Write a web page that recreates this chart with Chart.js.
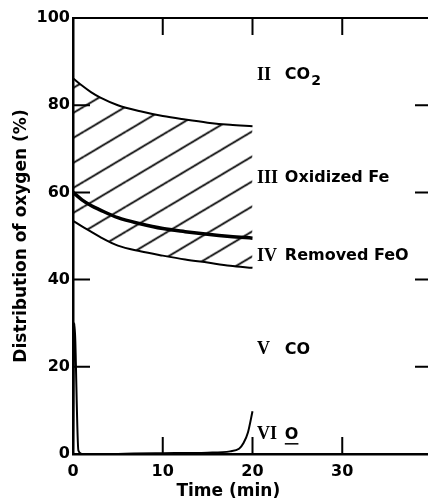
<!DOCTYPE html>
<html>
<head>
<meta charset="utf-8">
<script src="https://cdn.jsdelivr.net/npm/chart.js@4/dist/chart.umd.min.js"></script>
<style>
html, body { margin: 0; padding: 0; background: #fff; overflow: hidden; width: 428px; height: 503px; }
#wrap { width: 440px; height: 503px; position: relative; }
</style>
</head>
<body>
<div id="wrap"><canvas id="chart"></canvas></div>
<script>
// boundary curves between the oxygen fractions (time in min, value in %)
var time = [0, 1, 2, 3, 5, 7.5, 10, 12.5, 15, 17.5, 20];
var co2Edge = [86.2, 84.5, 83, 81.8, 80, 78.6, 77.5, 76.7, 76, 75.5, 75.2];
var feEdge = [60, 58.3, 57, 56, 54.2, 52.8, 51.7, 51, 50.4, 49.9, 49.5];
var feoEdge = [53.5, 52.2, 51, 49.8, 47.8, 46.5, 45.5, 44.6, 43.9, 43.2, 42.7];

// free oxygen curve
var oTime = [0, 0.15, 0.6, 1, 2, 4, 5, 10, 15, 17.5, 18.5, 19, 19.5, 20];
var oVal = [0, 30, 0.8, 0, -0.4, -0.4, 0, 0.2, 0.3, 0.6, 1.2, 2.5, 5, 9.8];

var xTicks = [0, 10, 20, 30];
var yTicks = [0, 20, 40, 60, 80, 100];

// region labels
var regionNum = ['II', 'III', 'IV', 'V', 'VI'];
var regionText = ['CO', 'Oxidized Fe', 'Removed FeO', 'CO', 'O'];
var regionAt = [86.9, 63.3, 45.4, 23.9, 4.4];

var FONT = '"DejaVu Sans", sans-serif';
var TICK = 17;

function pts(xs, ys) {
	return xs.map(function(x, i){ return {x: x, y: ys[i]}; });
}

function hatch() {
	var w = 42, h = 25;
	var c = document.createElement('canvas');
	c.width = w; c.height = h;
	var g = c.getContext('2d');
	g.strokeStyle = '#000';
	g.lineWidth = 1.8;
	for (var i = -1; i <= 1; i++) {
		for (var j = -1; j <= 1; j++) {
			g.beginPath();
			g.moveTo(i * w, h + j * h);
			g.lineTo(w + i * w, j * h);
			g.stroke();
		}
	}
	var p = g.createPattern(c, 'repeat');
	if (p.setTransform) { p.setTransform(new DOMMatrix([1, 0, 0, 1, 0, 6.5])); }
	return p;
}

var framePlugin = {
	id: 'frame',
	afterDraw: function(chart) {
		var ctx = chart.ctx, a = chart.chartArea;
		var xs = chart.scales.x, ys = chart.scales.y;
		ctx.save();
		ctx.strokeStyle = '#000';
		ctx.lineWidth = 2;
		ctx.beginPath();
		ctx.moveTo(a.left, a.top);
		ctx.lineTo(a.right, a.top);
		ctx.lineTo(a.right, a.bottom);
		yTicks.forEach(function(v){
			if (v <= 0 || v >= 100) { return; }
			var y = ys.getPixelForValue(v);
			ctx.moveTo(a.left, y); ctx.lineTo(a.left + TICK, y);
			ctx.moveTo(a.right, y); ctx.lineTo(a.right - TICK, y);
		});
		xTicks.forEach(function(v){
			if (v <= 0) { return; }
			var x = xs.getPixelForValue(v);
			ctx.moveTo(x, a.bottom); ctx.lineTo(x, a.bottom - TICK);
			ctx.moveTo(x, a.top); ctx.lineTo(x, a.top + TICK);
		});
		ctx.stroke();

		// axis titles
		ctx.fillStyle = '#000';
		ctx.textAlign = 'center';
		ctx.textBaseline = 'middle';
		ctx.font = 'bold 17px ' + FONT;
		ctx.fillText('Time (min)', xs.getPixelForValue(17.3), 492);
		ctx.save();
		ctx.translate(22, (a.top + a.bottom) / 2);
		ctx.rotate(-Math.PI / 2);
		ctx.fillText('Distribution of oxygen (%)', 0, 0);
		ctx.restore();

		// region labels
		ctx.textAlign = 'left';
		var xn = xs.getPixelForValue(20.5), xt = xs.getPixelForValue(23.6);
		regionNum.forEach(function(n, i){
			var y = ys.getPixelForValue(regionAt[i]);
			ctx.font = 'bold 18px "Liberation Serif", serif';
			ctx.fillText(n, xn, y);
			ctx.font = 'bold 16px ' + FONT;
			ctx.fillText(regionText[i], xt, y);
			var w = ctx.measureText(regionText[i]).width;
			if (i === 0) {
				ctx.font = 'bold 14px ' + FONT;
				ctx.fillText('2', xt + w + 1, y + 6);
			}
			if (i === 4) {
				ctx.lineWidth = 1.5;
				ctx.beginPath();
				ctx.moveTo(xt, y + 9); ctx.lineTo(xt + w, y + 9);
				ctx.stroke();
			}
		});
		ctx.restore();
	}
};

var line = {
	borderColor: '#000',
	pointRadius: 0,
	cubicInterpolationMode: 'monotone',
	fill: false
};

new Chart(document.getElementById('chart'), {
	type: 'line',
	data: {
		datasets: [
			Object.assign({}, line, { data: pts(time, co2Edge), borderWidth: 2, fill: '+2', backgroundColor: hatch() }),
			Object.assign({}, line, { data: pts(time, feEdge), borderWidth: 3.5 }),
			Object.assign({}, line, { data: pts(time, feoEdge), borderWidth: 2 }),
			Object.assign({}, line, { data: pts(oTime, oVal), borderWidth: 2 })
		]
	},
	options: {
		responsive: true,
		maintainAspectRatio: false,
		animation: false,
		layout: { padding: { top: 18, right: 8, left: 0, bottom: 0 } },
		plugins: { legend: { display: false }, tooltip: { enabled: false } },
		scales: {
			x: {
				type: 'linear', min: 0, max: 40,
				afterBuildTicks: function(s){ s.ticks = xTicks.map(function(v){ return {value: v}; }); },
				afterFit: function(s){ s.height = 49; },
				grid: { display: false, drawTicks: false },
				border: { color: '#000', width: 2.5 },
				ticks: { color: '#000', padding: 8, font: { family: FONT, size: 16, weight: 'bold' } }
			},
			y: {
				min: 0, max: 100,
				afterBuildTicks: function(s){ s.ticks = yTicks.map(function(v){ return {value: v}; }); },
				afterFit: function(s){ s.width = 73; },
				grid: { display: false, drawTicks: false },
				border: { color: '#000', width: 2.5 },
				ticks: { color: '#000', padding: 3, font: { family: FONT, size: 16, weight: 'bold' } }
			}
		}
	},
	plugins: [framePlugin]
});
</script>
</body>
</html>
